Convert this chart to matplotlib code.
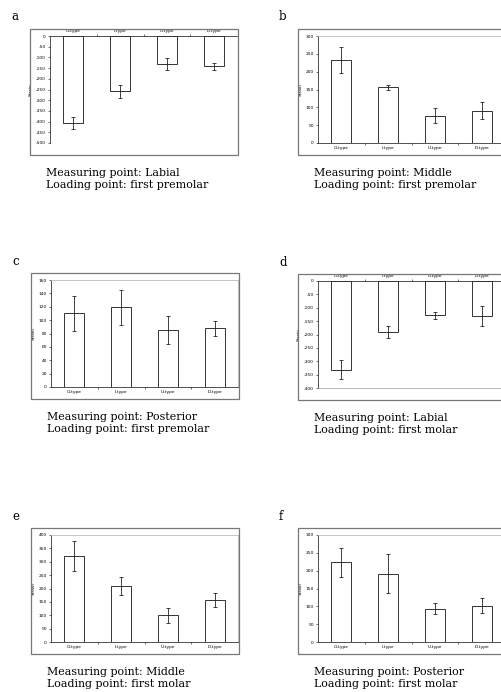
"""Six strain bar panels (a-f) with captions, laid out on a fixed pixel grid."""

import matplotlib

matplotlib.use("Agg")
import matplotlib.pyplot as plt
import numpy as np
from matplotlib.patches import Rectangle

W, H = 501, 692

categories = ["O-type", "I-type", "U-type", "D-type"]

a_mean = [-408, -258, -131, -142]
a_err = [28, 31, 28, 16]
b_mean = [232, 156, 77, 91]
b_err = [37, 7, 22, 25]
c_mean = [110, 119, 85, 88]
c_err = [26, 26, 21, 11]
d_mean = [-332, -192, -128, -131]
d_err = [35, 22, 13, 36]
e_mean = [321, 210, 100, 157]
e_err = [56, 34, 28, 28]
f_mean = [223, 192, 93, 102]
f_err = [41, 56, 15, 20]

a_ticks = np.arange(-500, 1, 50)
b_ticks = np.arange(0, 301, 50)
c_ticks = np.arange(0, 161, 20)
d_ticks = np.arange(-400, 1, 50)
e_ticks = np.arange(0, 401, 50)
f_ticks = np.arange(0, 301, 50)

captions = {
    "a": ("Measuring point: Labial", "Loading point: first premolar"),
    "b": ("Measuring point: Middle", "Loading point: first premolar"),
    "c": ("Measuring point: Posterior", "Loading point: first premolar"),
    "d": ("Measuring point: Labial", "Loading point: first molar"),
    "e": ("Measuring point: Middle", "Loading point: first molar"),
    "f": ("Measuring point: Posterior", "Loading point: first molar"),
}

SERIF = ["DejaVu Serif"]
TINY = 3.2


def fbox(x0, y0, x1, y1):
    return [x0 / W, 1 - y1 / H, (x1 - x0) / W, (y1 - y0) / H]


def draw_panel(fig, letter, left, top, means, errs, ticks, bottom_line=True):
    # left/top: pixel corner of the grey chart frame
    frame = Rectangle((left / W, 1 - (top + 126) / H), 208 / W, 126 / H,
                      transform=fig.transFigure, fill=False,
                      edgecolor="#777777", linewidth=0.9)
    fig.patches.append(frame)
    fig.text((left - 19) / W, 1 - (top - 12) / H, letter, family=SERIF,
             fontsize=8.5, va="center", ha="left")

    ax = fig.add_axes(fbox(left + 20, top + 7, left + 207, top + 114))
    x = np.arange(len(categories))
    ax.bar(x, means, width=0.43, color="white", edgecolor="#333333",
           linewidth=0.7, zorder=2)
    ax.errorbar(x, means, yerr=errs, fmt="none", ecolor="#222222",
                elinewidth=0.6, capsize=1.2, capthick=0.6, zorder=3)
    ax.set_xlim(-0.5, len(categories) - 0.5)
    ax.set_ylim(ticks[0], ticks[-1])
    ax.set_yticks(ticks)
    ax.set_yticklabels([str(t) for t in ticks], fontsize=TINY)
    ax.set_xticks(x)
    ax.set_xticklabels(categories, fontsize=TINY)
    ax.set_xticks(x[:-1] + 0.5, minor=True)
    ax.tick_params(axis="y", length=1.5, width=0.4, pad=1.5)
    ax.tick_params(axis="x", which="major", length=0, pad=2)
    ax.tick_params(axis="x", which="minor", length=1.5, width=0.4)
    ax.set_ylabel("Strain", fontsize=TINY, labelpad=2)

    negative = ticks[-1] == 0
    for side in ("left", "right", "top", "bottom"):
        ax.spines[side].set_linewidth(0.6)
    ax.spines["left"].set_color("#333333")
    if negative:
        ax.xaxis.set_ticks_position("top")
        ax.spines["top"].set_color("#333333")
        ax.spines["right"].set_visible(False)
        ax.spines["bottom"].set_color("#aaaaaa")
        ax.spines["bottom"].set_visible(bottom_line)
    else:
        ax.spines["bottom"].set_color("#333333")
        ax.spines["top"].set_color("#bbbbbb")
        ax.spines["right"].set_color("#bbbbbb")

    line1, line2 = captions[letter]
    fig.text((left + 16) / W, 1 - (top + 144) / H, line1, family=SERIF,
             fontsize=7.9, va="center", ha="left")
    fig.text((left + 16) / W, 1 - (top + 156) / H, line2, family=SERIF,
             fontsize=7.9, va="center", ha="left")
    return ax


fig = plt.figure(figsize=(W / 100, H / 100), dpi=100)
fig.patch.set_facecolor("white")

draw_panel(fig, "a", 30, 29, a_mean, a_err, a_ticks, bottom_line=False)
draw_panel(fig, "b", 298, 29, b_mean, b_err, b_ticks)
draw_panel(fig, "c", 31, 273, c_mean, c_err, c_ticks)
draw_panel(fig, "d", 298, 274, d_mean, d_err, d_ticks)
draw_panel(fig, "e", 31, 528, e_mean, e_err, e_ticks)
draw_panel(fig, "f", 298, 528, f_mean, f_err, f_ticks)

fig.savefig("out.png", dpi=100)
